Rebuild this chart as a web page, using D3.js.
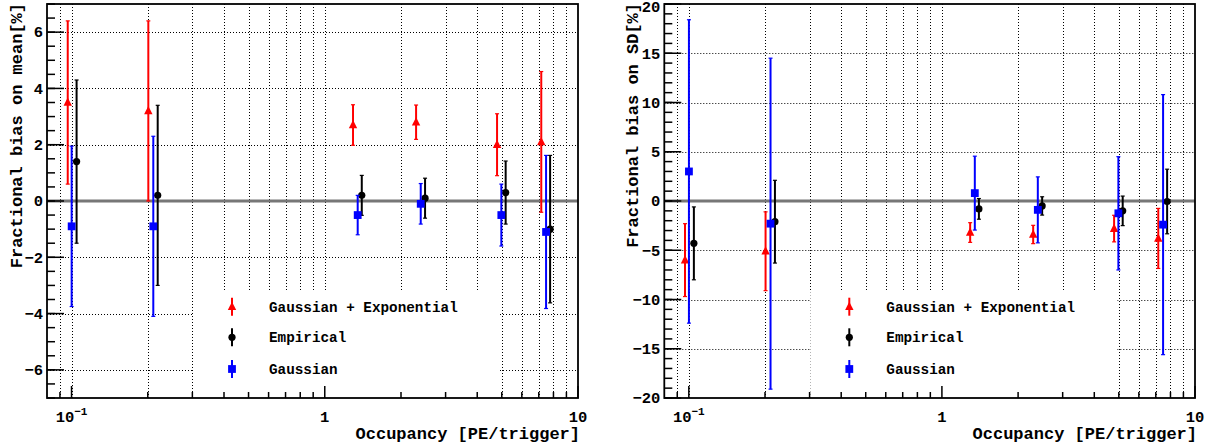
<!DOCTYPE html>
<html>
<head>
<meta charset="utf-8">
<script src="https://cdn.jsdelivr.net/npm/d3@7"></script>
<style>
  body { margin: 0; background: #fff; }
  text { font-family: "Liberation Mono", "DejaVu Sans Mono", monospace; font-weight: bold; }
</style>
</head>
<body>
<div id="chart"></div>
<script>
// occupancy for each fit method (points are shifted a little so they do not overlap)
const xGausExp = [0.0966, 0.201, 1.293, 2.294, 4.79, 7.16]
const xEmpirical = [0.1047, 0.2189, 1.40, 2.489, 5.18, 7.76]
const xGaus = [0.1001, 0.2103, 1.349, 2.393, 4.98, 7.48]

// fractional bias on mean [%]
const meanGausExp = [3.5, 3.2, 2.7, 2.8, 2.0, 2.1]
const meanGausExpErr = [2.9, 3.2, 0.72, 0.61, 1.1, 2.5]
const meanEmpirical = [1.4, 0.2, 0.2, 0.1, 0.3, -1.0]
const meanEmpiricalErr = [2.9, 3.2, 0.71, 0.71, 1.12, 2.62]
const meanGaus = [-0.9, -0.9, -0.5, -0.1, -0.5, -1.1]
const meanGausErr = [2.85, 3.2, 0.7, 0.72, 1.1, 2.72]

// fractional bias on SD [%]
const sdGausExp = [-6.0, -5.1, -3.2, -3.4, -2.8, -3.8]
const sdGausExpErr = [3.7, 4.0, 1.0, 0.93, 1.35, 3.05]
const sdEmpirical = [-4.3, -2.1, -0.8, -0.5, -1.0, -0.05]
const sdEmpiricalErr = [3.7, 4.2, 1.05, 0.93, 1.5, 3.28]
const sdGaus = [3.0, -2.3, 0.8, -0.9, -1.25, -2.4]
const sdGausErr = [15.4, 16.8, 3.75, 3.35, 5.75, 13.2]

const legendLabels = ["Gaussian + Exponential", "Empirical", "Gaussian"]
const xTitle = "Occupancy [PE/trigger]"

const width = 1220, height = 448

const svg = d3.select("#chart").append("svg")
    .attr("width", width)
    .attr("height", height)
svg.append("rect").attr("width", width).attr("height", height).attr("fill", "#fff")

function makeSeries(xs, ys, errs) {
    return xs.map((x, i) => ({x: x, y: ys[i], e: errs[i]}))
}

const panels = [
    {
        left: 47, right: 578, top: 4, bottom: 398,
        yDomain: [-7, 7], yMajor: d3.range(-6, 7, 2), yMinor: d3.range(-7, 7.01, 0.5),
        yTitle: "Fractional bias on mean[%]", titleX: 22,
        series: [
            {name: "gausexp", color: "#ff0000", shape: "triangle", data: makeSeries(xGausExp, meanGausExp, meanGausExpErr)},
            {name: "empirical", color: "#000000", shape: "circle", data: makeSeries(xEmpirical, meanEmpirical, meanEmpiricalErr)},
            {name: "gaus", color: "#0000ff", shape: "square", data: makeSeries(xGaus, meanGaus, meanGausErr)}
        ]
    },
    {
        left: 664.3, right: 1195, top: 4, bottom: 398,
        yDomain: [-20, 20], yMajor: d3.range(-20, 21, 5), yMinor: d3.range(-20, 20.01, 1),
        yTitle: "Fractional bias on SD[%]", titleX: 638,
        series: [
            {name: "gausexp", color: "#ff0000", shape: "triangle", data: makeSeries(xGausExp, sdGausExp, sdGausExpErr)},
            {name: "empirical", color: "#000000", shape: "circle", data: makeSeries(xEmpirical, sdEmpirical, sdEmpiricalErr)},
            {name: "gaus", color: "#0000ff", shape: "square", data: makeSeries(xGaus, sdGaus, sdGausErr)}
        ]
    }
]

function marker(sel, shape, color) {
    if (shape === "triangle") {
        sel.append("path").attr("d", "M0,-5L4.2,3.3L-4.2,3.3Z").attr("fill", color)
    } else if (shape === "circle") {
        sel.append("circle").attr("r", 3.6).attr("fill", color)
    } else {
        sel.append("rect").attr("x", -3.9).attr("y", -3.9).attr("width", 7.8).attr("height", 7.8).attr("fill", color)
    }
}

panels.forEach(p => {
    const x = d3.scaleLog().domain([0.08, 10]).range([p.left, p.right])
    const y = d3.scaleLinear().domain(p.yDomain).range([p.bottom, p.top])
    const g = svg.append("g")

    const xTicks = x.ticks().filter(d => d > 0.0801 && d < 9.99)
    const xMajor = [0.1, 1, 10]

    // grid
    const grid = g.append("g")
        .attr("stroke", "#000")
        .attr("stroke-width", 1)
        .attr("stroke-dasharray", "1,2")
    grid.selectAll("line.v").data(xTicks).enter().append("line")
        .attr("x1", d => Math.round(x(d)) + 0.5).attr("x2", d => Math.round(x(d)) + 0.5)
        .attr("y1", p.top).attr("y2", p.bottom)
    grid.selectAll("line.h").data(p.yMajor.filter(d => d !== 0 && d > p.yDomain[0] && d < p.yDomain[1])).enter().append("line")
        .attr("x1", p.left).attr("x2", p.right)
        .attr("y1", d => Math.round(y(d)) + 0.5).attr("y2", d => Math.round(y(d)) + 0.5)

    // zero line
    g.append("line")
        .attr("x1", p.left).attr("x2", p.right)
        .attr("y1", y(0)).attr("y2", y(0))
        .attr("stroke", "#777").attr("stroke-width", 3)

    // legend box hides the grid
    const lg = g.append("g")
    lg.append("rect")
        .attr("x", p.left + 146).attr("y", 290)
        .attr("width", 307).attr("height", p.bottom - 290)
        .attr("fill", "#fff")
    const rows = [306.7, 337.3, 369]
    p.series.forEach((s, i) => {
        const row = lg.append("g").attr("transform", `translate(${p.left + 185}, ${rows[i]})`)
        row.append("line").attr("y1", -9).attr("y2", 9).attr("stroke", s.color).attr("stroke-width", 2)
        marker(row, s.shape, s.color)
        lg.append("text")
            .attr("x", p.left + 222).attr("y", rows[i] + 4.8)
            .attr("font-size", "14.3px")
            .attr("fill", "#000")
            .text(legendLabels[i])
    })

    // data with error bars
    p.series.forEach(s => {
        const sg = g.append("g")
        const pts = sg.selectAll("g").data(s.data).enter().append("g")
        pts.append("line")
            .attr("x1", d => x(d.x)).attr("x2", d => x(d.x))
            .attr("y1", d => y(d.y + d.e)).attr("y2", d => y(d.y - d.e))
            .attr("stroke", s.color).attr("stroke-width", 2)
        pts.append("line")
            .attr("x1", d => x(d.x) - 2).attr("x2", d => x(d.x) + 2)
            .attr("y1", d => y(d.y + d.e)).attr("y2", d => y(d.y + d.e))
            .attr("stroke", s.color).attr("stroke-width", 1.2)
        pts.append("line")
            .attr("x1", d => x(d.x) - 2).attr("x2", d => x(d.x) + 2)
            .attr("y1", d => y(d.y - d.e)).attr("y2", d => y(d.y - d.e))
            .attr("stroke", s.color).attr("stroke-width", 1.2)
        pts.append("g")
            .attr("transform", d => `translate(${x(d.x)}, ${y(d.y)})`)
            .each(function () { marker(d3.select(this), s.shape, s.color) })
    })

    // ticks
    const ticks = g.append("g").attr("stroke", "#000").attr("stroke-width", 1.5)
    ticks.selectAll("line.xt").data(xTicks.concat([10])).enter().append("line")
        .attr("x1", d => x(d)).attr("x2", d => x(d))
        .attr("y1", p.bottom).attr("y2", d => p.bottom - (xMajor.includes(+d.toPrecision(3)) ? 12 : 6))
    ticks.selectAll("line.ym").data(p.yMinor).enter().append("line")
        .attr("x1", p.left).attr("x2", p.left + 8)
        .attr("y1", d => y(d)).attr("y2", d => y(d))
    ticks.selectAll("line.yM").data(p.yMajor).enter().append("line")
        .attr("x1", p.left).attr("x2", p.left + 17)
        .attr("y1", d => y(d)).attr("y2", d => y(d))

    // frame
    g.append("rect")
        .attr("x", p.left).attr("y", p.top)
        .attr("width", p.right - p.left).attr("height", p.bottom - p.top)
        .attr("fill", "none").attr("stroke", "#000").attr("stroke-width", 1.8)

    // tick labels (the top one is kept inside the page)
    const fmt = d3.format("")
    g.selectAll("text.yl").data(p.yMajor).enter().append("text")
        .attr("x", p.left - 4).attr("y", d => Math.max(y(d) + 5.3, 12))
        .attr("text-anchor", "end")
        .attr("font-size", "15.5px")
        .text(d => fmt(d))
    xMajor.forEach(v => {
        const t = g.append("text")
            .attr("x", x(v)).attr("y", 422)
            .attr("text-anchor", "middle")
            .attr("font-size", "15.5px")
        if (v < 1) {
            t.append("tspan").text("10")
            t.append("tspan").attr("dy", -7).attr("font-size", "11px").text("\u22121")
        } else {
            t.text(fmt(v))
        }
    })

    // axis titles
    g.append("text")
        .attr("x", p.right + 2).attr("y", 439)
        .attr("text-anchor", "end")
        .attr("font-size", "17px")
        .text(xTitle)
    g.append("text")
        .attr("transform", `translate(${p.titleX}, ${p.top - 1}) rotate(-90)`)
        .attr("text-anchor", "end")
        .attr("font-size", "17px")
        .text(p.yTitle)
})
</script>
</body>
</html>
